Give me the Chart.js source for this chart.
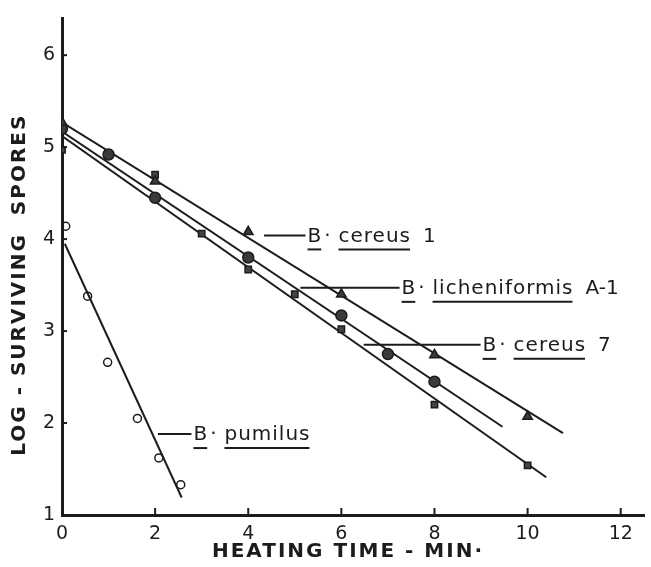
<!DOCTYPE html>
<html>
<head>
<meta charset="utf-8">
<script src="https://cdn.jsdelivr.net/npm/chart.js@4.4.1/dist/chart.umd.min.js"></script>
<style>
  html, body { margin: 0; padding: 0; background: #fff; }
  #wrap { width: 651px; height: 567px; }
</style>
</head>
<body>
<div id="wrap"><canvas id="sporeChart" width="651" height="567"></canvas></div>
<script>
// tick labels
const xTicks = [0, 2, 4, 6, 8, 10, 12];
const yTicks = [1, 2, 3, 4, 5, 6];

// measured points, grouped by marker
const triX = [0, 2, 4, 6, 8, 10];
const triY = [5.27, 4.63, 4.08, 3.40, 2.74, 2.07];
const circX = [0, 1, 2, 4, 6, 7, 8];
const circY = [5.20, 4.92, 4.45, 3.80, 3.17, 2.75, 2.45];
const sqX = [0, 2, 3, 4, 5, 6, 8, 10];
const sqY = [4.97, 4.70, 4.06, 3.67, 3.40, 3.02, 2.20, 1.54];
const pumX = [0.08, 0.55, 0.98, 1.62, 2.08, 2.55];
const pumY = [4.14, 3.38, 2.66, 2.05, 1.62, 1.33];

// fitted lines (start / end)
const fitCereus1X = [0, 10.76];
const fitCereus1Y = [5.27, 1.89];
const fitLichenX = [0, 9.46];
const fitLichenY = [5.17, 1.96];
const fitCereus7X = [0, 10.4];
const fitCereus7Y = [5.12, 1.41];
const fitPumX = [0.06, 2.57];
const fitPumY = [3.95, 1.19];

// strain names
const genus = ['B', 'B', 'B', 'B'];
const species = ['cereus', 'licheniformis', 'cereus', 'pumilus'];
const strain = ['1', 'A-1', '7', ''];

const xTitle = 'HEATING TIME - MIN\u00b7';
const yTitle = 'LOG - SURVIVING  SPORES';

// leader lines for the strain labels, in data units
const leaders = [
  { x0: 4.34, x1: 5.23, y: 4.04 },
  { x0: 5.12, x1: 7.25, y: 3.47 },
  { x0: 6.48, x1: 8.99, y: 2.85 },
  { x0: 2.06, x1: 2.78, y: 1.88 }
];

const pts = (xs, ys) => xs.map((x, i) => ({ x: x, y: ys[i] }));
const ink = '#1c1c1c';

function pointSet(label, xs, ys, style, radius, fill) {
  return {
    label: label,
    data: pts(xs, ys),
    showLine: false,
    pointStyle: style,
    pointRadius: radius,
    pointBackgroundColor: fill,
    pointBorderColor: ink,
    pointBorderWidth: 1.5,
    order: 0
  };
}

function fitLine(label, xs, ys) {
  return {
    label: label,
    data: pts(xs, ys),
    showLine: true,
    borderColor: ink,
    borderWidth: 2,
    pointRadius: 0,
    order: 1
  };
}

const decor = {
  id: 'decor',
  afterDraw(chart) {
    const ctx = chart.ctx;
    const xs = chart.scales.x, ys = chart.scales.y;
    const area = chart.chartArea;
    ctx.save();
    ctx.strokeStyle = ink;
    ctx.fillStyle = ink;

    // inward tick marks
    ctx.lineWidth = 2;
    xTicks.forEach(v => {
      const px = xs.getPixelForValue(v);
      if (v === 0) return;
      ctx.beginPath(); ctx.moveTo(px, area.bottom); ctx.lineTo(px, area.bottom - 7); ctx.stroke();
    });
    yTicks.forEach(v => {
      const py = ys.getPixelForValue(v);
      if (v === 1) return;
      ctx.beginPath(); ctx.moveTo(area.left, py); ctx.lineTo(area.left + 5, py); ctx.stroke();
    });

    // strain labels with leader lines
    ctx.font = '20px "DejaVu Sans"';
    ctx.textBaseline = 'middle';
    ctx.textAlign = 'left';
    leaders.forEach((ld, i) => {
      const x0 = xs.getPixelForValue(ld.x0), x1 = xs.getPixelForValue(ld.x1);
      const py = ys.getPixelForValue(ld.y);
      ctx.lineWidth = 2;
      ctx.beginPath(); ctx.moveTo(x0, py); ctx.lineTo(x1, py); ctx.stroke();

      let tx = x1 + 2;
      const ty = py + 1;
      const uy = py + 14;
      const bw = ctx.measureText(genus[i]).width;
      ctx.fillText(genus[i], tx, ty);
      ctx.beginPath(); ctx.moveTo(tx, uy); ctx.lineTo(tx + bw, uy); ctx.stroke();
      ctx.fillText('\u00b7', tx + bw + 3, ty);
      tx += 31;
      ctx.letterSpacing = '1px';
      const sw = ctx.measureText(species[i]).width;
      ctx.fillText(species[i], tx, ty);
      ctx.beginPath(); ctx.moveTo(tx, uy); ctx.lineTo(tx + sw - 1, uy); ctx.stroke();
      ctx.letterSpacing = '0px';
      if (strain[i]) ctx.fillText(strain[i], tx + sw + 12, ty);
    });

    // axis titles, letter-spaced to the original widths
    ctx.font = 'bold 20px "DejaVu Sans"';
    ctx.textAlign = 'center';
    ctx.textBaseline = 'middle';
    ctx.letterSpacing = '2px';
    ctx.fillText(xTitle, 348, 552);
    ctx.translate(20, (area.top + area.bottom) / 2 + 18);
    ctx.rotate(-Math.PI / 2);
    ctx.letterSpacing = '2px';
    ctx.fillText(yTitle, 0, 0);
    ctx.restore();
  }
};

new Chart(document.getElementById('sporeChart').getContext('2d'), {
  type: 'scatter',
  data: {
    datasets: [
      pointSet('triangles', triX, triY, 'triangle', 5.5, '#3a3a3a'),
      pointSet('circles', circX, circY, 'circle', 5.5, '#3a3a3a'),
      pointSet('squares', sqX, sqY, 'rect', 4.5, '#444'),
      pointSet('pumilus', pumX, pumY, 'circle', 4, 'rgba(255,255,255,0)'),
      fitLine('B. cereus 1', fitCereus1X, fitCereus1Y),
      fitLine('B. licheniformis A-1', fitLichenX, fitLichenY),
      fitLine('B. cereus 7', fitCereus7X, fitCereus7Y),
      fitLine('B. pumilus', fitPumX, fitPumY)
    ]
  },
  options: {
    responsive: false,
    animation: false,
    layout: { padding: { top: 12, right: 0, left: 0, bottom: 0 } },
    plugins: {
      legend: { display: false },
      tooltip: { enabled: false }
    },
    scales: {
      x: {
        type: 'linear',
        min: 0,
        max: 12.5,
        afterBuildTicks: s => { s.ticks = xTicks.map(v => ({ value: v })); },
        afterFit: s => { s.height = 52; },
        grid: { display: false, drawTicks: false },
        border: { display: true, color: ink, width: 3 },
        ticks: {
          color: ink,
          padding: 8,
          maxRotation: 0,
          font: { family: 'DejaVu Sans', size: 19 }
        }
      },
      y: {
        type: 'linear',
        min: 1,
        max: 6.4,
        afterBuildTicks: s => { s.ticks = yTicks.map(v => ({ value: v })); },
        afterFit: s => { s.width = 62; },
        grid: { display: false, drawTicks: false },
        border: { display: true, color: ink, width: 3 },
        ticks: {
          color: ink,
          padding: 7,
          font: { family: 'DejaVu Sans', size: 19 }
        }
      }
    }
  },
  plugins: [decor]
});
</script>
</body>
</html>
